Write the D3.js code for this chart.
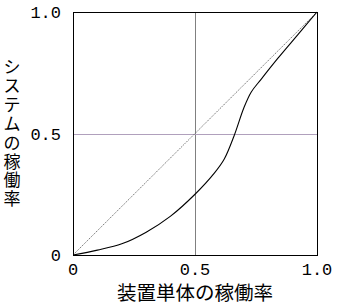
<!DOCTYPE html>
<html lang="ja">
<head>
<meta charset="UTF-8">
<title>システムの稼働率</title>
<script src="https://d3js.org/d3.v7.min.js"></script>
<style>
  body { margin: 0; background: #fff; }
  .tick { font-family: "Liberation Mono", "DejaVu Sans Mono", monospace; font-size: 17px; fill: #000; }
  .title { font-family: "Noto Sans CJK JP", sans-serif; fill: #000; }
</style>
</head>
<body>
<svg width="343" height="306"></svg>
<script>
// curve: system availability vs unit availability
const unitRate   = [0, 0.1, 0.2, 0.3, 0.4, 0.5, 0.58, 0.62, 0.66, 0.7, 0.73, 0.77, 0.84, 0.92, 1.0]
const systemRate = [0, 0.02, 0.046, 0.094, 0.16, 0.25, 0.338, 0.395, 0.49, 0.605, 0.67, 0.722, 0.81, 0.905, 1.0]
const ticks = [0, 0.5, 1.0]
const tickLabels = ["0", "0.5", "1.0"]
const yTitle = "システムの稼働率"

let svg = d3.select('svg')

let x = d3.scaleLinear().domain([0, 1]).range([73, 317])
let y = d3.scaleLinear().domain([0, 1]).range([255, 12])

const px = v => Math.round(v) + 0.5   // crisp 1px lines

// reference lines at 0.5
svg.append("line")
    .attr("x1", px(x(0.5))).attr("x2", px(x(0.5)))
    .attr("y1", y(1)).attr("y2", y(0))
    .attr("stroke", "#808080")
    .attr("shape-rendering", "crispEdges")

svg.append("line")
    .attr("x1", x(0)).attr("x2", x(1))
    .attr("y1", px(y(0.5))).attr("y2", px(y(0.5)))
    .attr("stroke", "#b0a0bc")
    .attr("shape-rendering", "crispEdges")

// diagonal (dotted)
svg.append("line")
    .attr("x1", x(0)).attr("y1", y(0))
    .attr("x2", x(1)).attr("y2", y(1))
    .attr("stroke", "#7a7a7a")
    .attr("stroke-width", 1)
    .attr("stroke-dasharray", "1.5,1")

// frame
svg.append("rect")
    .attr("x", px(x(0))).attr("y", px(y(1)))
    .attr("width", Math.round(x(1)) - Math.round(x(0)))
    .attr("height", Math.round(y(0)) - Math.round(y(1)))
    .attr("fill", "none")
    .attr("stroke", "#000")
    .attr("shape-rendering", "crispEdges")

// curve
let line = d3.line()
    .x((d, i) => x(unitRate[i]))
    .y(d => y(d))
    .curve(d3.curveCatmullRom.alpha(0.5))

svg.append("path")
    .datum(systemRate)
    .attr("d", line)
    .attr("fill", "none")
    .attr("stroke", "#000")
    .attr("stroke-width", 1.1)

// tick labels
svg.append("g").selectAll("text")
    .data(ticks)
    .enter()
    .append("text")
    .attr("class", "tick")
    .attr("x", d => x(d))
    .attr("y", 275)
    .attr("text-anchor", "middle")
    .text((d, i) => tickLabels[i])

svg.append("g").selectAll("text")
    .data(ticks)
    .enter()
    .append("text")
    .attr("class", "tick")
    .attr("x", 61)
    .attr("y", d => y(d) + 6)
    .attr("text-anchor", "end")
    .text((d, i) => tickLabels[i])

// axis titles
svg.append("text")
    .attr("class", "title")
    .attr("x", x(0.5))
    .attr("y", 300)
    .attr("text-anchor", "middle")
    .style("font-size", "19.5px")
    .text("装置単体の稼働率")

// vertical title, one character per line
svg.append("text")
    .attr("class", "title")
    .attr("text-anchor", "middle")
    .style("font-size", "17px")
    .selectAll("tspan")
    .data(Array.from(yTitle))
    .enter()
    .append("tspan")
    .attr("x", 12)
    .attr("y", (d, i) => 73 + i * 18.9)
    .text(d => d)
</script>
</body>
</html>
